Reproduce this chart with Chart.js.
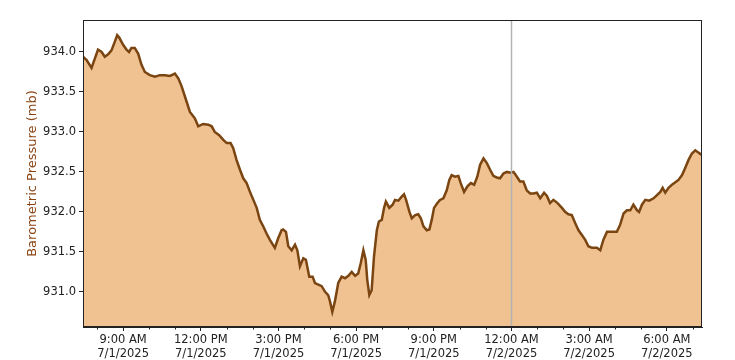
<!DOCTYPE html>
<html>
<head>
<meta charset="utf-8">
<script src="https://cdn.jsdelivr.net/npm/chart.js@4.4.0/dist/chart.umd.min.js"></script>
<style>
  html, body { margin: 0; padding: 0; background: #fff; }
  #wrap { width: 735px; height: 360px; }
</style>
</head>
<body>
<div id="wrap"><canvas id="myChart" width="735" height="360"></canvas></div>
<script>
// hours since 12:00 AM 7/1/2025
var hours = [7.45,7.59,7.78,7.91,8.03,8.17,8.29,8.42,8.55,8.68,8.77,8.85,9.00,9.13,9.23,9.32,9.45,9.58,9.71,9.84,
  10.03,10.23,10.42,10.61,10.81,11.00,11.13,11.26,11.39,11.58,11.77,11.90,12.09,12.29,12.42,12.54,12.71,12.87,13.00,13.15,
  13.25,13.38,13.51,13.64,13.77,13.90,14.03,14.16,14.28,14.41,14.54,14.67,14.86,14.99,15.12,15.18,15.29,15.38,15.51,15.64,
  15.73,15.83,15.96,16.06,16.19,16.32,16.41,16.54,16.67,16.80,16.92,16.99,17.08,17.18,17.31,17.44,17.57,17.70,17.83,17.96,
  18.08,18.18,18.28,18.37,18.43,18.51,18.60,18.69,18.80,18.88,18.99,19.08,19.15,19.28,19.41,19.50,19.63,19.76,19.85,19.93,
  20.06,20.15,20.28,20.40,20.50,20.60,20.73,20.83,20.92,21.01,21.14,21.24,21.37,21.50,21.60,21.69,21.82,21.95,22.04,22.17,
  22.30,22.43,22.56,22.68,22.79,22.92,23.05,23.17,23.30,23.43,23.56,23.69,23.82,23.97,24.08,24.21,24.33,24.46,24.59,24.72,
  24.85,24.98,25.11,25.26,25.37,25.49,25.62,25.78,25.95,26.07,26.20,26.33,26.46,26.59,26.72,26.85,26.97,27.11,27.30,27.43,
  27.55,27.69,27.88,28.07,28.20,28.33,28.46,28.59,28.71,28.85,28.93,29.04,29.17,29.32,29.49,29.62,29.75,29.84,29.94,30.07,
  30.20,30.33,30.45,30.59,30.71,30.84,30.97,31.10,31.23,31.36];

// barometric pressure (mb)
var pressure = [933.94,933.90,933.80,933.92,934.03,934.00,933.94,933.97,934.02,934.13,934.21,934.18,934.09,934.03,934.00,934.05,934.05,933.98,933.84,933.75,
  933.71,933.69,933.71,933.71,933.70,933.73,933.67,933.57,933.44,933.25,933.17,933.07,933.10,933.09,933.07,933.00,932.96,932.90,932.86,932.86,
  932.80,932.65,932.53,932.42,932.36,932.25,932.15,932.05,931.90,931.82,931.73,931.65,931.55,931.67,931.77,931.78,931.75,931.57,931.52,931.59,
  931.52,931.32,931.42,931.40,931.19,931.19,931.11,931.09,931.07,931.00,930.96,930.88,930.75,930.88,931.11,931.19,931.17,931.20,931.25,931.20,
  931.23,931.36,931.52,931.40,931.15,930.96,931.02,931.44,931.77,931.88,931.90,932.05,932.13,932.05,932.09,932.15,932.14,932.19,932.22,932.15,
  932.00,931.92,931.96,931.97,931.92,931.82,931.77,931.78,931.90,932.05,932.11,932.15,932.17,932.27,932.40,932.46,932.44,932.45,932.36,932.25,
  932.32,932.36,932.34,932.44,932.59,932.67,932.61,932.53,932.45,932.43,932.42,932.48,932.50,932.49,932.50,932.44,932.38,932.38,932.27,932.23,
  932.23,932.24,932.17,932.24,932.20,932.11,932.15,932.11,932.05,932.00,931.97,931.96,931.86,931.77,931.71,931.65,931.57,931.55,931.55,931.52,
  931.65,931.75,931.75,931.75,931.84,931.98,932.02,932.02,932.09,932.02,932.00,932.09,932.15,932.14,932.17,932.21,932.25,932.30,932.24,932.30,
  932.34,932.37,932.40,932.46,932.55,932.65,932.73,932.77,932.74,932.71];

var xTicks = [9, 12, 15, 18, 21, 24, 27, 30];
var xMinorTicks = [8, 10, 11, 13, 14, 16, 17, 19, 20, 22, 23, 25, 26, 28, 29, 31];
var dayLabels = ["7/1/2025", "7/2/2025"];
var yTicks = [931.0, 931.5, 932.0, 932.5, 933.0, 933.5, 934.0];
var markerHour = 24; // midnight line
var yMin = 930.56, yMax = 934.4;

function hourLabel(h) {
  var day = Math.floor(h / 24);
  var hr = Math.round(h % 24);
  var h12 = hr % 12 === 0 ? 12 : hr % 12;
  var ampm = hr < 12 ? "AM" : "PM";
  return [h12 + ":00 " + ampm, dayLabels[day]];
}

var points = hours.map(function (h, i) {
  return { x: h, y: pressure[i] };
});

// frame, minor ticks and the midnight line
var extras = {
  id: "extras",
  afterDatasetsDraw: function (chart) {
    var ctx = chart.ctx;
    var a = chart.chartArea;
    var xs = chart.scales.x;
    ctx.save();
    var mx = Math.round(xs.getPixelForValue(markerHour)) + 0.5;
    ctx.strokeStyle = "#b3b3b3";
    ctx.lineWidth = 1.5;
    ctx.beginPath();
    ctx.moveTo(mx, a.top);
    ctx.lineTo(mx, a.bottom);
    ctx.stroke();

    ctx.strokeStyle = "#222";
    ctx.lineWidth = 1;
    ctx.strokeRect(a.left + 0.5, a.top + 0.5, a.right - a.left - 1, a.bottom - a.top - 1);

    xMinorTicks.forEach(function (h) {
      var px = Math.round(xs.getPixelForValue(h)) + 0.5;
      ctx.beginPath();
      ctx.moveTo(px, a.bottom);
      ctx.lineTo(px, a.bottom + 2.5);
      ctx.stroke();
    });
    ctx.restore();
  },
};

var tickFont = { family: "DejaVu Sans", size: 11.5 };

var ctx = document.getElementById("myChart").getContext("2d");
var myChart = new Chart(ctx, {
  type: "line",
  data: {
    datasets: [
      {
        label: "Barometric Pressure",
        data: points,
        borderColor: "#7a4511",
        backgroundColor: "#f0c292",
        borderWidth: 2.5,
        pointRadius: 0,
        tension: 0,
        fill: "start",
      },
    ],
  },
  options: {
    responsive: false,
    animation: false,
    devicePixelRatio: 1,
    layout: { padding: { top: 20, right: 33, left: 0, bottom: 0 } },
    plugins: { legend: { display: false }, tooltip: { enabled: false } },
    scales: {
      x: {
        type: "linear",
        min: hours[0],
        max: hours[hours.length - 1],
        afterBuildTicks: function (scale) {
          scale.ticks = xTicks.map(function (v) { return { value: v }; });
        },
        afterFit: function (scale) { scale.height = 33; },
        ticks: {
          autoSkip: false,
          maxRotation: 0,
          padding: 2,
          color: "#222",
          font: tickFont,
          callback: function (v) { return hourLabel(v); },
        },
        grid: { drawOnChartArea: false, tickLength: 4, tickColor: "#222" },
        border: { display: true, color: "#222" },
      },
      y: {
        min: yMin,
        max: yMax,
        afterBuildTicks: function (scale) {
          scale.ticks = yTicks.map(function (v) { return { value: v }; });
        },
        afterFit: function (scale) { scale.width = 83; },
        ticks: {
          padding: 3,
          color: "#222",
          font: tickFont,
          callback: function (v) { return v.toFixed(1); },
        },
        grid: { drawOnChartArea: false, tickLength: 4, tickColor: "#222" },
        border: { display: true, color: "#222" },
        title: {
          display: true,
          text: "Barometric Pressure (mb)",
          color: "#8b4513",
          font: { family: "DejaVu Sans", size: 13 },
          padding: { top: 25, bottom: 0 },
        },
      },
    },
  },
  plugins: [extras],
});
</script>
</body>
</html>
